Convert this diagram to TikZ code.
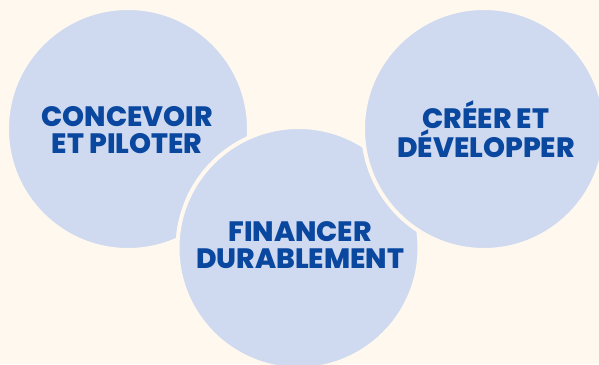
\documentclass[tikz,border=0pt]{standalone}
\usepackage{fontspec}
\setmainfont{Poppins}[BoldFont={Poppins ExtraBold}]
\definecolor{bg}{HTML}{FFF8EE}
\definecolor{disc}{HTML}{CFDAF0}
\definecolor{ink}{HTML}{0A479F}
\begin{document}
\begin{tikzpicture}[x=1pt,y=-1pt,
  discstyle/.style={fill=disc,draw=bg,line width=4pt},
  label/.style={text=ink,font=\fontsize{28}{27}\selectfont\bfseries,align=center,inner sep=0pt}]
\fill[bg] (0,0) rectangle (599,364);
\useasboundingbox (0,0) rectangle (599,364);
\begin{scope}
\clip (0,0) rectangle (599,364);
\path[discstyle] (128,129) circle[radius=121];
\path[discstyle] (298.5,248) circle[radius=121];
\path[discstyle] (484,129) circle[radius=121];
\end{scope}
\node[label] (a) at (127,130) {CONCEVOIR\\ET PILOTER};
\node[label] (b) at (486,129) {CRÉER ET\\DÉVELOPPER};
\node[label] (c) at (300,245) {FINANCER\\DURABLEMENT};
\end{tikzpicture}
\end{document}
